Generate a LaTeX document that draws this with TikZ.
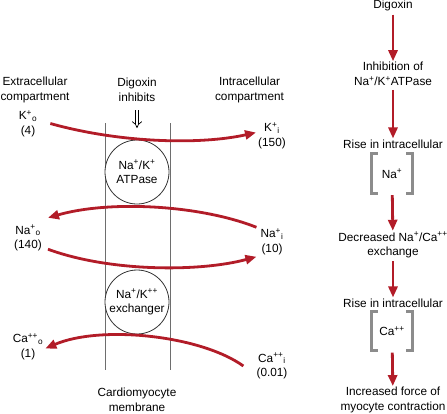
\documentclass[tikz,border=0pt]{standalone}
\usepackage{fontspec}
\setmainfont{Liberation Sans}
\usetikzlibrary{arrows.meta}
\definecolor{dred}{RGB}{178,28,40}
\definecolor{mgray}{RGB}{110,110,110}
\definecolor{bgray}{RGB}{140,140,140}
\newcommand\ionsp[1]{\textsuperscript{#1}}
\newcommand\ionsb[1]{\textsubscript{#1}}
\begin{document}
\begin{tikzpicture}[x=1bp,y=-1bp,
  font=\fontsize{11.8bp}{14.5bp}\selectfont,
  lbl/.style={align=center,inner sep=1bp},
  flow/.style={draw=dred,line width=2.8bp,-{Triangle[length=11bp,width=9bp]}},
  ion/.style={draw=dred,line width=2.8bp,-{Triangle[length=11bp,width=9bp]}},
  mem/.style={draw=mgray,line width=0.9bp},
  pump/.style={circle,draw=black!80,line width=0.8bp,minimum size=64bp,inner sep=0pt,align=center},
  brk/.style={draw=bgray,line width=3bp},
  brkbox/.style={minimum width=40bp,minimum height=39bp,inner sep=0pt},
  dbl/.style={double,double distance=2.8bp,line width=0.7bp,-{Implies}}]
\useasboundingbox (0,0) rectangle (447,413);
% membrane
\draw[mem] (105,123) -- (105,370);
\draw[mem] (170,123) -- (170,370);
% headers
\node[lbl] (extra) at (35,90) {Extracellular\\compartment};
\node[lbl] (diginh) at (137,90) {Digoxin\\inhibits};
\node[lbl] (intra) at (249.5,90) {Intracellular\\compartment};
\coordinate (memtop) at (137,128);
\draw[dbl] (137,110) -- (memtop);
% pumps
\node[pump,fill=white] (atp) at (137,172) {Na\ionsp{+}/K\ionsp{+}\\ATPase};
\node[pump,fill=white] (exch) at (137,302) {Na\ionsp{+}/K\ionsp{++}\\exchanger};
% ions
\node[lbl] (Ko) at (28,123.5) {K\ionsp{+}\ionsb{o}\\(4)};
\node[lbl] (Ki) at (272,135.5) {K\ionsp{+}\ionsb{i}\\(150)};
\node[lbl] (Nao) at (28,238) {Na\ionsp{+}\ionsb{o}\\(140)};
\node[lbl] (Nai) at (272,241.5) {Na\ionsp{+}\ionsb{i}\\(10)};
\node[lbl] (Cao) at (28,346.5) {Ca\ionsp{++}\ionsb{o}\\(1)};
\node[lbl] (Cai) at (272,366) {Ca\ionsp{++}\ionsb{i}\\(0.01)};
\node[lbl] (memb) at (137,400) {Cardiomyocyte\\membrane};
% ion arrows
\draw[ion] ([shift={(12bp,0bp)}]Ko.east) .. controls (120,143) and (200,145) .. ([shift={(-1bp,3bp)}]Ki.west);
\draw[ion] ([shift={(-3bp,0bp)}]Nai.north west) .. controls (200,205) and (110,200) .. ([shift={(5bp,6bp)}]Nao.north east);
\draw[ion] ([shift={(5bp,3bp)}]Nao.south east) .. controls (110,272) and (200,272) .. ([shift={(-3bp,-1bp)}]Nai.south west);
\draw[ion] ([shift={(-12bp,0bp)}]Cai.west) .. controls (200,335) and (100,325) .. ([shift={(1bp,-2bp)}]Cao.east);
% right column
\node[lbl] (dig) at (393,5) {Digoxin};
\node[lbl] (inh) at (393,74) {Inhibition of\\Na\ionsp{+}/K\ionsp{+}ATPase};
\node[lbl] (rise1) at (393,144) {Rise in intracellular};
\node[brkbox] (b1) at (392,173.5) {Na\ionsp{+}};
\node[lbl] (dec) at (393,245) {Decreased Na\ionsp{+}/Ca\ionsp{++}\\exchange};
\node[lbl] (rise2) at (393,303) {Rise in intracellular};
\node[brkbox] (b2) at (392,331) {Ca\ionsp{++}};
\node[lbl] (force) at (393,400) {Increased force of\\myocyte contraction};
\foreach \b in {b1,b2}{
  \draw[brk] ([xshift=6bp]\b.north west) -- (\b.north west) -- (\b.south west) -- ([xshift=6bp]\b.south west);
  \draw[brk] ([xshift=-6bp]\b.north east) -- (\b.north east) -- (\b.south east) -- ([xshift=-6bp]\b.south east);
}
\draw[flow,shorten <=3bp] (dig) -- (inh);
\draw[flow,shorten <=3bp] (inh) -- (rise1);
\draw[flow,shorten <=2bp] (b1) -- (dec);
\draw[flow,shorten <=2bp] (dec) -- (rise2);
\draw[flow,shorten <=2bp] (b2) -- (force);
\end{tikzpicture}
\end{document}
